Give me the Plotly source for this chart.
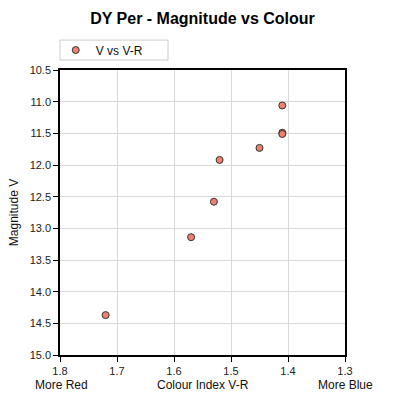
import plotly.graph_objects as go

# V-R colour index and V magnitude
colour_vr = [1.41, 1.41, 1.41, 1.45, 1.52, 1.53, 1.57, 1.72]
magnitude_v = [11.06, 11.49, 11.51, 11.73, 11.92, 12.58, 13.14, 14.37]

x_ticks = [1.8, 1.7, 1.6, 1.5, 1.4, 1.3]
y_ticks = [10.5, 11.0, 11.5, 12.0, 12.5, 13.0, 13.5, 14.0, 14.5, 15.0]

fig = go.Figure()
fig.add_trace(go.Scatter(
    x=colour_vr,
    y=magnitude_v,
    mode='markers',
    name='V vs V-R',
    marker=dict(size=7, color='#f08070', line=dict(color='#333333', width=1)),
))

axis_common = dict(
    showline=True, linecolor='black', linewidth=1.5, mirror=True,
    ticks='outside', ticklen=5, tickcolor='black',
    showgrid=True, gridcolor='#d9d9d9', gridwidth=1,
    zeroline=False, tickfont=dict(size=11, color='#222'),
)

fig.update_layout(
    width=405, height=405,
    template='plotly_white',
    font=dict(family='Liberation Sans, Arial, sans-serif', color='#111'),
    title=dict(text='<b>DY Per - Magnitude vs Colour</b>', x=0.5, xanchor='center',
               y=0.955, yanchor='middle', font=dict(size=16, color='black')),
    margin=dict(l=60, r=60, t=70, b=50),
    plot_bgcolor='white',
    paper_bgcolor='white',
    showlegend=True,
    # legend frame drawn as a shape so its box can be wider/shorter than plotly's own
    legend=dict(x=-0.015, y=1.07, xanchor='left', yanchor='middle',
                borderwidth=0, bgcolor='rgba(0,0,0,0)',
                font=dict(size=12), itemwidth=30),
    shapes=[dict(type='rect', xref='paper', yref='paper',
                 x0=0.0, x1=0.379, y0=1.035, y1=1.105,
                 line=dict(color='#cccccc', width=1), fillcolor='white', layer='below')],
    xaxis=dict(range=[1.8, 1.3], tickvals=x_ticks, tickformat='.1f', **axis_common),
    yaxis=dict(range=[15.0, 10.5], tickvals=y_ticks, tickformat='.1f',
               title=dict(text='Magnitude V', font=dict(size=12), standoff=8),
               **axis_common),
    annotations=[
        dict(text='More Red', x=0.005, y=-0.075, xref='paper', yref='paper',
             xanchor='center', yanchor='top', showarrow=False, font=dict(size=12)),
        dict(text='Colour Index V-R', x=0.5, y=-0.075, xref='paper', yref='paper',
             xanchor='center', yanchor='top', showarrow=False, font=dict(size=12)),
        dict(text='More Blue', x=1.0, y=-0.075, xref='paper', yref='paper',
             xanchor='center', yanchor='top', showarrow=False, font=dict(size=12)),
    ],
)

# drop the browser's default page margin so the figure sits at the top-left corner
fig.write_html('out.html', config={'displayModeBar': False},
               post_script="document.body.style.margin='0';")
